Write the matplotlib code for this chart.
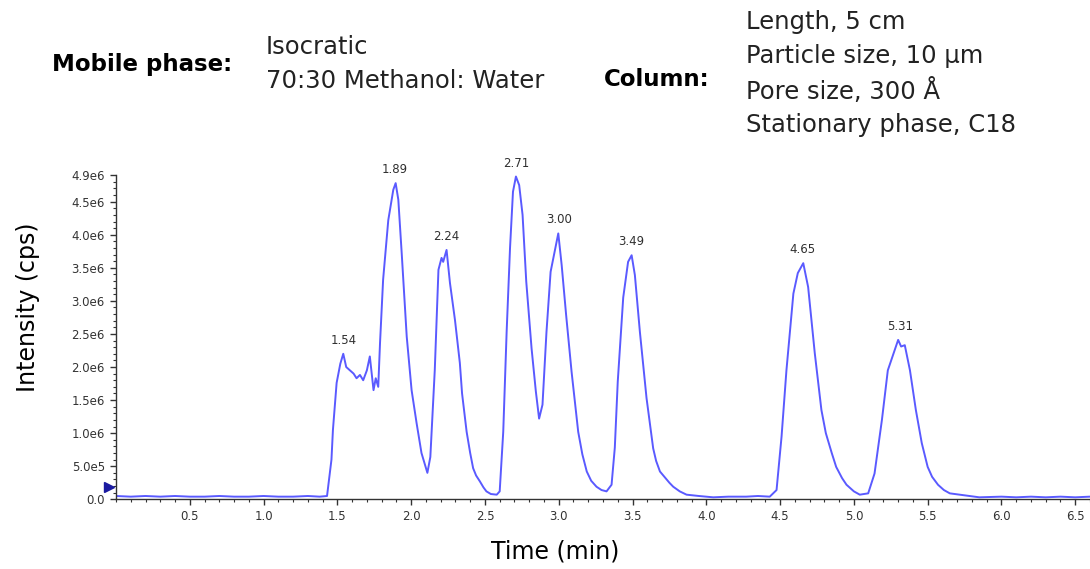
import numpy as np
import matplotlib
matplotlib.use('Agg')
import matplotlib.pyplot as plt
import matplotlib.transforms as mtransforms
from matplotlib.ticker import FixedLocator, MultipleLocator

# chromatogram trace: time (min), intensity (1e6 cps)
time = [0.00, 0.10, 0.20, 0.30, 0.40, 0.50, 0.60, 0.70, 0.80, 0.90,
        1.00, 1.10, 1.20, 1.30, 1.38, 1.43, 1.46, 1.47, 1.495, 1.52,
        1.54, 1.56, 1.585, 1.61, 1.63, 1.653, 1.675, 1.70, 1.72, 1.745,
        1.76, 1.777, 1.789, 1.81, 1.845, 1.879, 1.895, 1.913, 1.936, 1.97,
        2.003, 2.037, 2.07, 2.11, 2.13, 2.16, 2.185, 2.206, 2.217, 2.24,
        2.263, 2.297, 2.33, 2.345, 2.376, 2.40, 2.42, 2.44, 2.466, 2.49,
        2.51, 2.54, 2.58, 2.60,
        2.624, 2.647, 2.67, 2.69, 2.71, 2.732, 2.755, 2.78, 2.816, 2.845,
        2.867, 2.89, 2.917, 2.945, 2.97, 2.997, 3.02, 3.05, 3.087, 3.132,
        3.16, 3.19, 3.22, 3.256, 3.29, 3.324, 3.358, 3.38, 3.40, 3.437,
        3.47, 3.494, 3.516, 3.55, 3.595, 3.64, 3.66, 3.686, 3.72, 3.75,
        3.776, 3.82, 3.866, 3.95, 4.047, 4.15,
        4.27, 4.35, 4.43, 4.476, 4.51, 4.543, 4.59, 4.62, 4.657, 4.69,
        4.735, 4.78, 4.81, 4.85, 4.88, 4.92, 4.95, 5.00, 5.04, 5.097,
        5.14, 5.19, 5.23, 5.277, 5.30, 5.32, 5.345, 5.38, 5.42, 5.46,
        5.50, 5.53, 5.57, 5.61, 5.65,
        5.75, 5.85, 6.00, 6.10, 6.20, 6.30, 6.40, 6.50, 6.60]
intensity = [0.05, 0.04, 0.05, 0.04, 0.05, 0.04, 0.04, 0.05, 0.04, 0.04,
             0.05, 0.04, 0.04, 0.05, 0.04, 0.05, 0.60, 1.05, 1.76, 2.05,
             2.20, 2.00, 1.95, 1.90, 1.83, 1.88, 1.80, 1.95, 2.16, 1.65,
             1.83, 1.70, 2.36, 3.32, 4.22, 4.68, 4.78, 4.53, 3.72, 2.46,
             1.65, 1.15, 0.70, 0.40, 0.64, 1.95, 3.47, 3.65, 3.59, 3.77,
             3.27, 2.71, 2.06, 1.60, 1.02, 0.70, 0.47, 0.36, 0.27, 0.18,
             0.12, 0.08, 0.07, 0.12,
             1.02, 2.53, 3.80, 4.65, 4.88, 4.75, 4.30, 3.29, 2.28, 1.63,
             1.22, 1.43, 2.53, 3.44, 3.72, 4.02, 3.54, 2.79, 1.93, 1.02,
             0.68, 0.42, 0.28, 0.19, 0.14, 0.12, 0.22, 0.78, 1.78, 3.05,
             3.59, 3.69, 3.39, 2.53, 1.53, 0.77, 0.58, 0.42, 0.33, 0.25,
             0.19, 0.12, 0.07, 0.05, 0.03, 0.04,
             0.04, 0.05, 0.04, 0.14, 0.95, 1.95, 3.11, 3.42, 3.57, 3.21,
             2.21, 1.35, 1.00, 0.70, 0.49, 0.32, 0.22, 0.12, 0.07, 0.09,
             0.39, 1.20, 1.95, 2.26, 2.41, 2.31, 2.33, 1.95, 1.35, 0.85,
             0.49, 0.34, 0.22, 0.14, 0.09,
             0.06, 0.03, 0.04, 0.03, 0.04, 0.03, 0.04, 0.03, 0.04]

peak_times = [1.54, 1.89, 2.24, 2.71, 3.00, 3.49, 4.65, 5.31]
peak_heights = [2.20, 4.78, 3.77, 4.88, 4.02, 3.69, 3.57, 2.41]
peak_labels = ['1.54', '1.89', '2.24', '2.71', '3.00', '3.49', '4.65', '5.31']

y_ticks = [0.0, 0.5, 1.0, 1.5, 2.0, 2.5, 3.0, 3.5, 4.0, 4.5, 4.9]
y_tick_labels = ['0.0', '5.0e5', '1.0e6', '1.5e6', '2.0e6', '2.5e6', '3.0e6',
                 '3.5e6', '4.0e6', '4.5e6', '4.9e6']
x_ticks = [0.5, 1.0, 1.5, 2.0, 2.5, 3.0, 3.5, 4.0, 4.5, 5.0, 5.5, 6.0, 6.5]

mobile_lines = ['Isocratic', '70:30 Methanol: Water']
column_lines = ['Length, 5 cm', 'Particle size, 10 \u03bcm', 'Pore size, 300 \u00c5',
                'Stationary phase, C18']

plt.rcParams['font.family'] = ['DejaVu Sans']

fig = plt.figure(figsize=(10.9, 5.69), dpi=100)
W, H = 1090.0, 569.0


def fx(px):
    return px / W


def fy(py):
    return 1 - py / H


ax = fig.add_axes([fx(116), fy(499.3), 1 - fx(116), (499.3 - 175.2) / H])

ax.plot(time, np.array(intensity) * 1e6, color='#5a5aff', lw=1.4)
ax.set_xlim(0, 6.6)
ax.set_ylim(0, 4.9e6)

for t, h, lab in zip(peak_times, peak_heights, peak_labels):
    ax.annotate(lab, (t, h * 1e6), xytext=(0, 5), textcoords='offset points',
                ha='center', va='bottom', fontsize=8.5, color='#303030')

ax.xaxis.set_major_locator(FixedLocator(x_ticks))
ax.set_xticklabels(['%.1f' % v for v in x_ticks])
ax.xaxis.set_minor_locator(MultipleLocator(0.1))
ax.yaxis.set_major_locator(FixedLocator([v * 1e6 for v in y_ticks]))
ax.set_yticklabels(y_tick_labels)
ax.yaxis.set_minor_locator(MultipleLocator(0.1e6))

ax.tick_params(which='major', direction='out', length=4, width=1, color='#333333',
               labelsize=8.5, labelcolor='#333333', pad=4)
ax.tick_params(which='minor', direction='out', length=2, width=0.8, color='#333333')
for side in ['top', 'right']:
    ax.spines[side].set_visible(False)
for side in ['left', 'bottom']:
    ax.spines[side].set_color('#333333')
    ax.spines[side].set_linewidth(1.0)

# start marker on the y axis
trans = mtransforms.blended_transform_factory(ax.transAxes, ax.transData)
ax.plot([-0.007], [0.19e6], marker='>', markersize=7, color='#1a1aa0',
        transform=trans, clip_on=False)

fig.text(fx(555), fy(551), 'Time (min)', ha='center', va='center', fontsize=17)
fig.text(fx(28), fy(307), 'Intensity (cps)', ha='center', va='center',
         rotation=90, fontsize=17)

fig.text(fx(52), fy(65), 'Mobile phase:', ha='left', va='center',
         fontsize=16.5, fontweight='bold')
for i, line in enumerate(mobile_lines):
    fig.text(fx(266), fy(47 + 34 * i), line, ha='left', va='center', fontsize=17.5,
             color='#222222')

fig.text(fx(604), fy(80), 'Column:', ha='left', va='center',
         fontsize=16.5, fontweight='bold')
for i, line in enumerate(column_lines):
    fig.text(fx(746), fy(22 + 34.3 * i), line, ha='left', va='center', fontsize=17.5,
             color='#222222')

fig.savefig('out.png', dpi=100)
